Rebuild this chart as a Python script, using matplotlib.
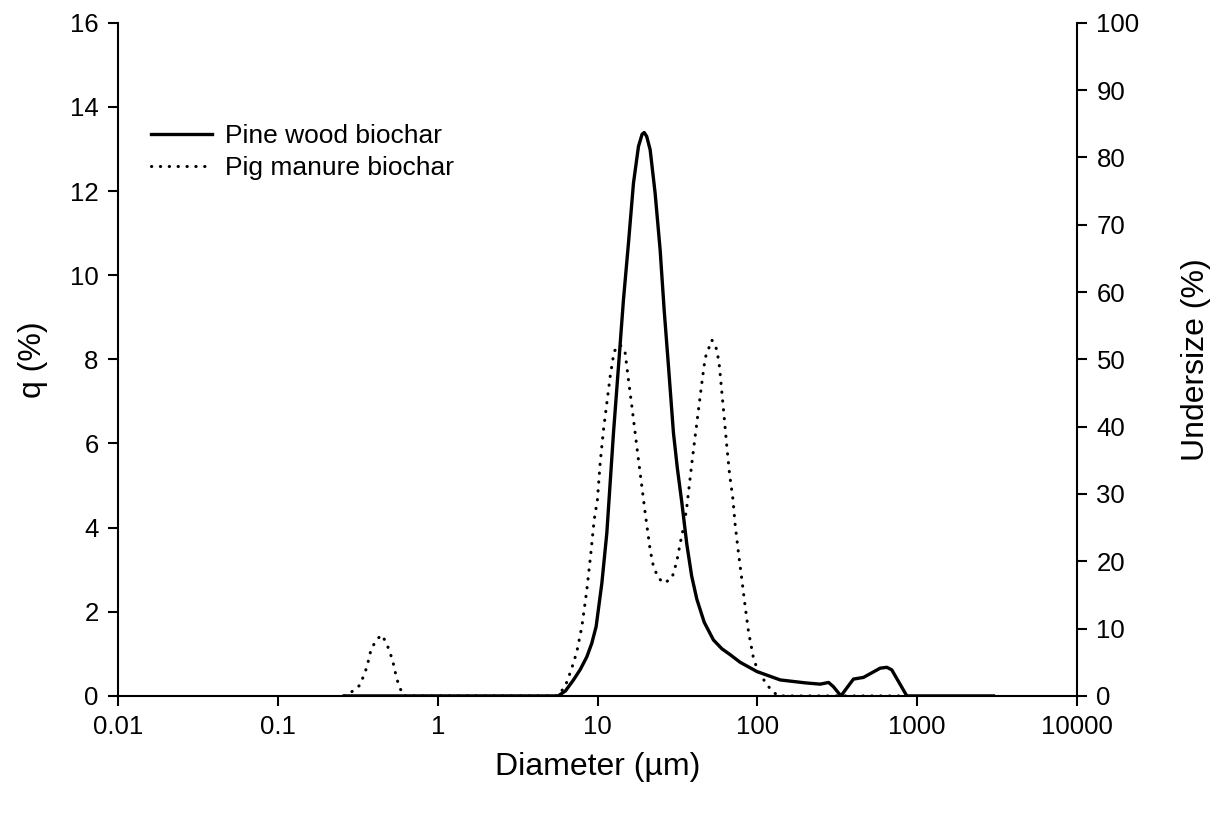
import matplotlib
matplotlib.use("Agg")
import matplotlib.pyplot as plt
from matplotlib.ticker import FixedLocator, FixedFormatter, NullLocator

plt.rcParams['font.family'] = ['Liberation Sans', 'DejaVu Sans']

# --- Data ---
pine_d = [0.26, 5.05, 5.67, 6.3, 7.07, 7.8, 8.57, 9.20, 9.80, 10.64, 11.43, 12.58, 13.52,
          14.52, 15.61, 16.78, 18.03, 19.0, 19.58, 20.3, 21.34, 22.92, 24.64, 26.1,
          27.79, 29.85, 31.6, 33.67, 36.2, 38.8, 41.8, 46.5, 53.1, 60.0, 67.6, 78.0, 99.3,
          139, 200, 247, 279, 299, 333, 399, 461, 587, 646, 693, 861, 1000, 3000]
pine_q = [0, 0, 0, 0.12, 0.38, 0.63, 0.93, 1.25, 1.65, 2.68, 3.87, 6.25, 7.83,
          9.41, 10.76, 12.19, 13.06, 13.35, 13.39, 13.3, 12.98, 11.95, 10.60, 9.18,
          7.83, 6.25, 5.40, 4.60, 3.60, 2.85, 2.30, 1.75, 1.33, 1.12, 0.98, 0.80, 0.58,
          0.38, 0.31, 0.28, 0.32, 0.22, 0, 0.40, 0.44, 0.66, 0.68, 0.62, 0, 0, 0]

pig_d = [0.26, 0.29, 0.327, 0.36, 0.382, 0.412, 0.447, 0.48, 0.521, 0.555, 0.582,
         0.61, 5.6, 6.27, 6.9, 7.42, 7.98, 8.57, 9.08, 9.52, 9.98, 10.38, 10.89,
         11.43, 11.99, 12.7, 13.84, 14.89, 15.61, 16.4, 17.19, 18.03, 18.93, 19.86,
         21.34, 22.39, 24.05, 26.1, 29.2, 31.3, 32.9, 34.8, 36.2, 37.1, 38.9, 40.8,
         42.8, 44.9, 47.1, 51.9, 55.8, 57.9, 60.0, 62.2, 64.4, 66.9, 70.3, 72.6,
         76.2, 80.0, 83.9, 88.0, 94.5, 99.3, 114.6, 129, 135, 850]
pig_q = [0, 0.1, 0.26, 0.68, 1.09, 1.33, 1.45, 1.24, 0.86, 0.40, 0.18,
         0, 0, 0.22, 0.66, 1.05, 1.65, 2.52, 3.39, 4.18, 4.66, 5.53, 6.32,
         6.96, 7.59, 8.19, 8.35, 8.15, 7.51, 6.88, 6.25, 5.61, 4.98, 4.35,
         3.47, 3.07, 2.80, 2.68, 2.80, 3.19, 3.63, 4.07, 4.50, 4.85, 5.53, 6.17,
         6.80, 7.43, 8.03, 8.46, 8.23, 7.83, 7.20, 6.56, 5.93, 5.29, 4.68, 4.07,
         3.39, 2.76, 2.12, 1.53, 0.90, 0.66, 0.26, 0.06, 0, 0]

x_ticks = [0.01, 0.1, 1, 10, 100, 1000, 10000]
x_labels = ["0.01", "0.1", "1", "10", "100", "1000", "10000"]
q_ticks = list(range(0, 17, 2))
under_ticks = list(range(0, 101, 10))

# --- Plot ---
fig = plt.figure(figsize=(12.17, 8.13), dpi=100)
ax = fig.add_axes([0.097, 0.144, 0.788, 0.828])

ax.plot(pine_d, pine_q, color='black', lw=2.4, label="Pine wood biochar")
ax.plot(pig_d, pig_q, color='black', lw=2.2, linestyle=(0, (0.1, 2.8)),
        dash_capstyle='round', label="Pig manure biochar")

ax.set_xscale('log')
ax.set_xlim(0.01, 10000)
ax.set_ylim(0, 16)
ax.xaxis.set_major_locator(FixedLocator(x_ticks))
ax.xaxis.set_major_formatter(FixedFormatter(x_labels))
ax.xaxis.set_minor_locator(NullLocator())
ax.set_yticks(q_ticks)

ax.spines['top'].set_visible(False)
ax.spines['right'].set_visible(False)
for s in ['left', 'bottom']:
    ax.spines[s].set_linewidth(1.5)
ax.tick_params(direction='out', length=7, width=1.5, labelsize=18.5, pad=7)

ax.set_xlabel("Diameter (µm)", fontsize=23, labelpad=9)
ax.set_ylabel("q (%)", fontsize=23, labelpad=16)

ax2 = ax.twinx()
ax2.set_ylim(0, 100)
ax2.set_yticks(under_ticks)
ax2.spines['top'].set_visible(False)
ax2.spines['left'].set_visible(False)
ax2.spines['bottom'].set_visible(False)
ax2.spines['right'].set_linewidth(1.5)
ax2.tick_params(direction='out', length=7, width=1.5, labelsize=18.5, pad=7)
ax2.set_ylabel("Undersize (%)", fontsize=23, labelpad=30)

ax.legend(loc='upper left', bbox_to_anchor=(0.01, 0.885), frameon=False,
          fontsize=19, handlelength=2.3, handletextpad=0.5, labelspacing=0.3)

fig.savefig("out.png", dpi=100)
